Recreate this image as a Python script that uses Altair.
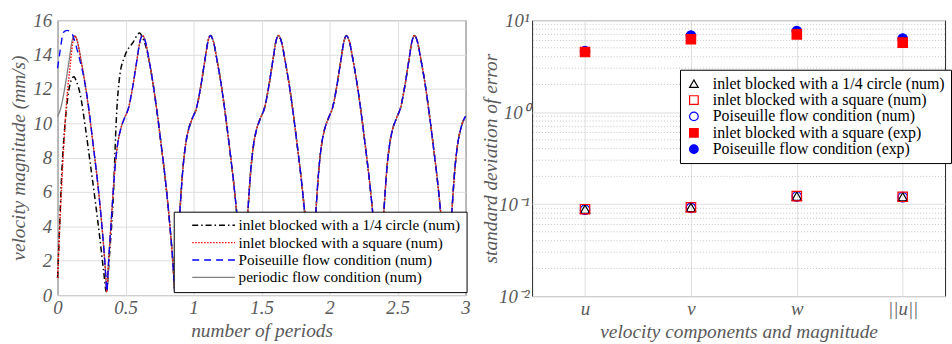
import altair as alt
import pandas as pd

# ---------------- left panel data ----------------
S1 = "inlet blocked with a 1/4 circle (num)"
S2 = "inlet blocked with a square (num)"
S3 = "Poiseuille flow condition (num)"
S4 = "periodic flow condition (num)"
line_series = [S1, S2, S3, S4]

# periodic flow condition (num) - gray solid
gray_x = [0.0, 0.024, 0.054, 0.084, 0.107, 0.124,
          0.144, 0.174, 0.204, 0.234, 0.264, 0.294, 0.324, 0.344, 0.356, 0.362, 0.374, 0.397, 0.422, 0.442, 0.462, 0.492, 0.522, 0.552, 0.582, 0.607, 0.624,
          0.644, 0.674, 0.704, 0.734, 0.764, 0.794, 0.824, 0.844, 0.856, 0.862, 0.874, 0.897, 0.922, 0.942, 0.962, 0.992, 1.022, 1.052, 1.082, 1.107, 1.124,
          1.144, 1.174, 1.204, 1.234, 1.264, 1.294, 1.324, 1.344, 1.356, 1.362, 1.374, 1.397, 1.422, 1.442, 1.462, 1.492, 1.522, 1.552, 1.582, 1.607, 1.624,
          1.644, 1.674, 1.704, 1.734, 1.764, 1.794, 1.824, 1.844, 1.856, 1.862, 1.874, 1.897, 1.922, 1.942, 1.962, 1.992, 2.022, 2.052, 2.082, 2.107, 2.124,
          2.144, 2.174, 2.204, 2.234, 2.264, 2.294, 2.324, 2.344, 2.356, 2.362, 2.374, 2.397, 2.422, 2.442, 2.462, 2.492, 2.522, 2.552, 2.582, 2.607, 2.624,
          2.644, 2.674, 2.704, 2.734, 2.764, 2.794, 2.824, 2.844, 2.856, 2.862, 2.874, 2.897, 2.922, 2.942, 2.962, 2.992, 3.0]
gray_v = [10.4, 10.9, 12.1, 13.6, 14.8, 15.1,
          14.8, 13.6, 12.2, 10.5, 8.6, 6.6, 4.2, 2.3, 0.9, 0.2, 1.8, 4.6, 7.4, 8.8, 9.6, 10.3, 10.9, 12.1, 13.6, 14.8, 15.1,
          14.8, 13.6, 12.2, 10.5, 8.6, 6.6, 4.2, 2.3, 0.9, 0.2, 1.8, 4.6, 7.4, 8.8, 9.6, 10.3, 10.9, 12.1, 13.6, 14.8, 15.1,
          14.8, 13.6, 12.2, 10.5, 8.6, 6.6, 4.2, 2.3, 0.9, 0.2, 1.8, 4.6, 7.4, 8.8, 9.6, 10.3, 10.9, 12.1, 13.6, 14.8, 15.1,
          14.8, 13.6, 12.2, 10.5, 8.6, 6.6, 4.2, 2.3, 0.9, 0.2, 1.8, 4.6, 7.4, 8.8, 9.6, 10.3, 10.9, 12.1, 13.6, 14.8, 15.1,
          14.8, 13.6, 12.2, 10.5, 8.6, 6.6, 4.2, 2.3, 0.9, 0.2, 1.8, 4.6, 7.4, 8.8, 9.6, 10.3, 10.9, 12.1, 13.6, 14.8, 15.1,
          14.8, 13.6, 12.2, 10.5, 8.6, 6.6, 4.2, 2.3, 0.9, 0.2, 1.8, 4.6, 7.4, 8.8, 9.6, 10.3, 10.4]

# inlet blocked with a square (num) - red dotted: own start, then same as gray
red_x_start = [0.0, 0.02, 0.044, 0.068, 0.092, 0.11]
red_v_start = [1.0, 4.7, 8.5, 11.4, 13.3, 14.6]

# Poiseuille flow condition (num) - blue dashed: own start, then same as gray
blue_x_start = [0.0, 0.02, 0.044, 0.07, 0.1, 0.125, 0.153, 0.197, 0.226, 0.258]
blue_v_start = [13.2, 14.3, 15.3, 15.4, 15.3, 14.8, 14.0, 12.5, 11.1, 9.0]

# inlet blocked with a 1/4 circle (num) - black dash-dot: own first period, then same as gray
black_x_start = [0.0, 0.015, 0.03, 0.05, 0.075, 0.1, 0.12, 0.14, 0.166, 0.202, 0.238, 0.275, 0.311, 0.34, 0.358,
                 0.385, 0.409, 0.433, 0.457, 0.494, 0.555, 0.603, 0.624, 0.644]
black_v_start = [1.0, 4.0, 7.0, 9.5, 11.5, 12.5, 12.7, 12.4, 11.7, 9.9, 7.8, 5.6, 3.3, 1.3, 0.2,
                 2.7, 5.6, 10.4, 12.75, 13.9, 14.7, 15.25, 15.0, 14.6]

# ---------------- right panel data ----------------
P1 = "inlet blocked with a 1/4 circle (num)"
P2 = "inlet blocked with a square (num)"
P3 = "Poiseuille flow condition (num)"
P4 = "inlet blocked with a square (exp)"
P5 = "Poiseuille flow condition (exp)"
point_series = [P1, P2, P3, P4, P5]

components = [1, 2, 3, 4]
component_labels = ["u", "v", "w", "||u||"]
tri_num = [0.088, 0.092, 0.122, 0.120]
sq_num = [0.088, 0.092, 0.122, 0.120]
circ_num = [0.087, 0.091, 0.121, 0.119]
sq_exp = [4.5, 6.2, 7.0, 5.7]
circ_exp = [4.6, 6.8, 7.6, 6.3]

minor_grid = [0.02, 0.03, 0.04, 0.05, 0.06, 0.07, 0.08, 0.09,
              0.2, 0.3, 0.4, 0.5, 0.6, 0.7, 0.8, 0.9,
              2, 3, 4, 5, 6, 7, 8, 9]

# ---------------- build tables ----------------
def join(xs, vs, gx, gv):
    last = xs[-1]
    out_x = list(xs) + [x for x in gx if x > last]
    out_v = list(vs) + [v for x, v in zip(gx, gv) if x > last]
    return out_x, out_v

series_data = {
    S1: join(black_x_start, black_v_start, gray_x, gray_v),
    S4: (gray_x, gray_v),
    S2: join(red_x_start, red_v_start, gray_x, gray_v),
    S3: join(blue_x_start, blue_v_start, gray_x, gray_v),
}
rows = []
for name, (xs, vs) in series_data.items():   # drawing order: black, gray, red, blue
    for i, (x, v) in enumerate(zip(xs, vs)):
        rows.append({"series": name, "x": x, "v": v, "i": i})
df_lines = pd.DataFrame(rows)

prow = []
for j, c in enumerate(components):
    prow.append({"series": P3, "c": c, "val": circ_num[j]})
    prow.append({"series": P1, "c": c, "val": tri_num[j]})
    prow.append({"series": P2, "c": c, "val": sq_num[j]})
    prow.append({"series": P5, "c": c, "val": circ_exp[j]})
    prow.append({"series": P4, "c": c, "val": sq_exp[j]})
df_pts = pd.DataFrame(prow)
df_minor = pd.DataFrame({"val": minor_grid})

FONT = "Liberation Serif, Times New Roman, Times, serif"
AX_COLOR = "#5a5a5a"
GRID = "#dedede"

# ---------------- left chart ----------------
color_scale = alt.Scale(domain=line_series, range=["black", "red", "blue", "gray"])
dash_scale = alt.Scale(domain=line_series, range=[[6, 3, 1.5, 3], [1.5, 1.5], [7, 5], [1, 0]])
width_scale = alt.Scale(domain=line_series, range=[1.5, 1.3, 1.0, 2.4])

left_legend = alt.Legend(
    title=None, orient="none", legendX=117, legendY=193,
    symbolType="M1,0H9.6", symbolSize=100, symbolStrokeWidth=1.7,
    labelFont=FONT, labelFontSize=15.3, labelColor="black", labelLimit=400,
    labelOffset=44, padding=6, rowPadding=1.5,
    strokeColor="black", fillColor="white", cornerRadius=0,
)

xl = alt.X("x:Q", scale=alt.Scale(domain=[0, 3], nice=False),
           axis=alt.Axis(values=[0, 0.5, 1, 1.5, 2, 2.5, 3], format="~g",
                         title="number of periods"))
yl = alt.Y("v:Q", scale=alt.Scale(domain=[0, 16], nice=False),
           axis=alt.Axis(values=list(range(0, 17, 2)), format="~g",
                         title="velocity magnitude (mm/s)", labelPadding=6, titlePadding=4))

left = alt.Chart(df_lines).mark_line(interpolate="monotone").encode(
    x=xl, y=yl, order="i:Q",
    color=alt.Color("series:N", scale=color_scale, legend=left_legend),
    strokeDash=alt.StrokeDash("series:N", scale=dash_scale, legend=left_legend),
    strokeWidth=alt.StrokeWidth("series:N", scale=width_scale, legend=None),
).properties(width=411, height=277)

# ---------------- right chart ----------------
shape_scale = alt.Scale(domain=point_series, range=["triangle-up", "square", "circle", "square", "circle"])
stroke_scale = alt.Scale(domain=point_series, range=["black", "red", "blue", "red", "blue"])
fill_scale = alt.Scale(domain=point_series, range=["transparent", "transparent", "transparent", "red", "blue"])

right_legend = alt.Legend(
    title=None, orient="none", legendX=149, legendY=50,
    symbolSize=75, symbolStrokeWidth=1.2,
    labelFont=FONT, labelFontSize=16, labelColor="black", labelLimit=400,
    labelOffset=11, padding=6, rowPadding=0.5,
    strokeColor="black", fillColor="white", cornerRadius=0,
)

xr = alt.X("c:Q", scale=alt.Scale(domain=[0.5, 4.4], nice=False, zero=False),
           axis=alt.Axis(values=components,
                         labelExpr="datum.value == 1 ? 'u' : datum.value == 2 ? 'v' : datum.value == 3 ? 'w' : '||u||'",
                         title="velocity components and magnitude"))
yr = alt.Y("val:Q", scale=alt.Scale(type="log", domain=[0.01, 10], nice=False),
           axis=alt.Axis(values=[0.01, 0.1, 1, 10],
                         labelExpr="datum.value > 5 ? '10¹' : datum.value > 0.5 ? '10⁰' : datum.value > 0.05 ? '10⁻¹' : '10⁻²'",
                         title="standard deviation of error", labelPadding=3, titlePadding=-2))

minor = alt.Chart(df_minor).mark_rule(color="#c4c4c4", strokeDash=[1, 2], strokeWidth=1).encode(y=yr)
pts = alt.Chart(df_pts).mark_point(size=90, strokeWidth=1.2, opacity=1).encode(
    x=xr, y=yr,
    shape=alt.Shape("series:N", scale=shape_scale, legend=right_legend),
    stroke=alt.Stroke("series:N", scale=stroke_scale, legend=right_legend),
    fill=alt.Fill("series:N", scale=fill_scale, legend=right_legend),
)
right = alt.layer(minor, pts).properties(width=416, height=278)

chart = alt.hconcat(left, right, spacing=8).resolve_scale(
    color="independent", shape="independent", fill="independent", stroke="independent",
    strokeDash="independent", strokeWidth="independent"
).properties(
    padding={"left": 8, "top": 9, "right": 0, "bottom": 0}
).configure_view(
    stroke="#262626", strokeWidth=1
).configure_axis(
    labelFont=FONT, labelFontSize=19, labelFontStyle="italic", labelColor=AX_COLOR,
    titleFont=FONT, titleFontSize=19.5, titleFontStyle="italic", titleFontWeight="normal", titleColor=AX_COLOR,
    gridColor=GRID, gridWidth=1, domain=False, ticks=False, labelPadding=4, titlePadding=4,
    labelFlush=False,
)

chart.save("out.html", embed_options={"renderer": "svg", "actions": False})
